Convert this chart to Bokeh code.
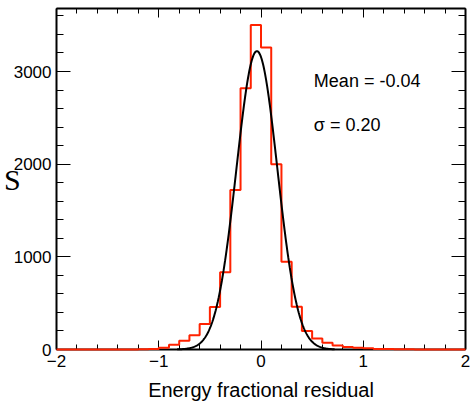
import numpy as np
from bokeh.plotting import figure
from bokeh.models import Range1d, LinearAxis, FixedTicker, Label
from bokeh.embed import file_html
from bokeh.resources import INLINE

# ---- data -------------------------------------------------------------
bin_edges = [round(-2.0 + 0.1 * i, 1) for i in range(41)]
counts = [0, 0, 0, 0, 0, 0, 0, 0, 2, 5,          # -2.0 ... -1.0
          18, 50, 95, 155, 275, 458, 833, 1722, 2820, 3502,   # -1.0 ... 0.0
          3260, 2000, 947, 461, 200, 120, 72, 43, 26, 18,     # 0.0 ... 1.0
          14, 6, 5, 2, 2, 1, 1, 0, 0, 0]          # 1.0 ... 2.0
fit_amplitude = 3220.0
fit_mean = -0.04
fit_sigma = 0.20
fit_range = (-0.82, 0.72)
x_ticks = [-2, -1, 0, 1, 2]
x_tick_labels = {-2: "\u22122", -1: "\u22121", 0: "0", 1: "1", 2: "2"}
y_ticks = [0, 1000, 2000, 3000]
stats_text = ["Mean = -0.04", "\u03c3 = 0.20"]
x_title = "Energy fractional residual"
y_title_visible = "S"

FONT = "Liberation Sans"

p = figure(width=472, height=403, x_range=Range1d(-2, 2), y_range=Range1d(0, 3680),
           output_backend="svg", toolbar_location=None,
           min_border_left=54, min_border_right=7, min_border_top=8, min_border_bottom=52)
p.grid.visible = False
p.outline_line_color = None
p.background_fill_color = "white"
p.border_fill_color = "white"

x_minor = [round(-2 + 0.2 * i, 1) for i in range(21)]
y_minor = [200 * i for i in range(19)]

def style_axis(ax, ticks, minor, major_in, minor_in, labels=True):
    ax.ticker = FixedTicker(ticks=ticks, minor_ticks=minor)
    ax.axis_line_width = 2
    ax.axis_line_color = "black"
    ax.major_tick_in = major_in
    ax.major_tick_out = 0
    ax.minor_tick_in = minor_in
    ax.minor_tick_out = 0
    ax.major_tick_line_color = "black"
    ax.minor_tick_line_color = "black"
    ax.major_label_text_font = FONT
    ax.major_label_text_font_size = "17px"
    ax.major_label_text_color = "black"
    if not labels:
        ax.major_label_overrides = {t: "" for t in ticks}
        ax.major_label_text_font_size = "1px"
        ax.major_label_text_color = None
        ax.major_label_standoff = 0

xa = p.xaxis[0]
style_axis(xa, x_ticks, x_minor, 9, 5)
xa.major_label_overrides = x_tick_labels
xa.axis_label = x_title
xa.axis_label_text_font = FONT
xa.axis_label_text_font_size = "20px"
xa.axis_label_text_font_style = "normal"
xa.axis_label_text_color = "black"
xa.axis_label_standoff = 9

ya = p.yaxis[0]
style_axis(ya, y_ticks, y_minor, 14, 7)
ya.axis_label = y_title_visible
ya.axis_label_orientation = "horizontal"
ya.axis_label_text_font = "Liberation Serif"
ya.axis_label_text_font_size = "30px"
ya.axis_label_text_font_style = "normal"
ya.axis_label_text_color = "black"
ya.axis_label_standoff = -10

top = LinearAxis()
style_axis(top, x_ticks, x_minor, 9, 5, labels=False)
p.add_layout(top, "above")
right = LinearAxis()
style_axis(right, y_ticks, y_minor, 14, 7, labels=False)
p.add_layout(right, "right")

# histogram outline
step_y = counts + [counts[-1]]
p.step(x=bin_edges, y=step_y, mode="after", line_color="#ff2200", line_width=2,
       level="annotation")

# gaussian fit
gx = np.linspace(fit_range[0], fit_range[1], 300)
gy = fit_amplitude * np.exp(-0.5 * ((gx - fit_mean) / fit_sigma) ** 2)
p.line(gx, gy, line_color="black", line_width=2, level="annotation")

p.add_layout(Label(x=0.517, y=2900, text=stats_text[0], text_font=FONT,
                   text_font_size="18px", text_baseline="middle", text_color="black"))
p.add_layout(Label(x=0.517, y=2420, text=stats_text[1], text_font=FONT,
                   text_font_size="18px", text_baseline="middle", text_color="black"))

open("out.html", "w").write(file_html(p, INLINE))
